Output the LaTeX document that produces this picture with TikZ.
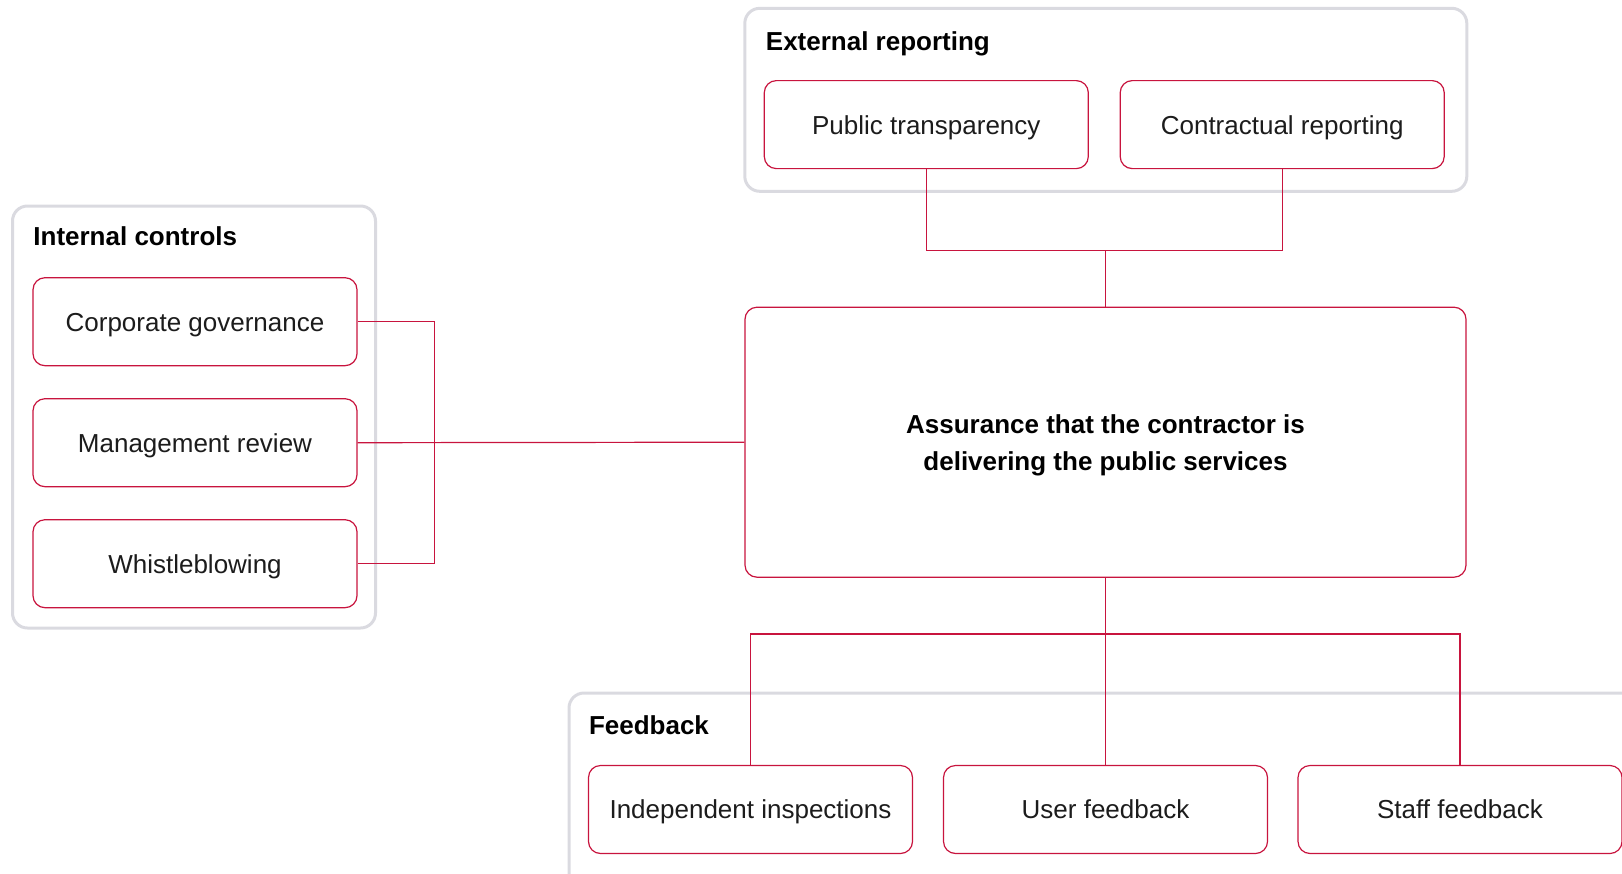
\documentclass[tikz,border=0pt]{standalone}
\usepackage{fontspec}
\setmainfont{Liberation Sans}
\definecolor{brand}{RGB}{200,20,62}
\definecolor{framegrey}{RGB}{218,218,224}
\definecolor{ink}{RGB}{28,28,28}

\begin{document}
\begin{tikzpicture}[x=0.5pt,y=-0.5pt,
  groupframe/.style={draw=framegrey, line width=1.5pt, rounded corners=7.5pt, inner sep=0pt},
  boxbase/.style={draw=brand, line width=0.6pt, fill=white, rounded corners=6pt, inner sep=0pt},
  itembox/.style={boxbase, minimum width=162pt, minimum height=44pt,
    text height=9.4pt, text depth=0pt, text=ink,
    font=\fontsize{13}{16}\selectfont},
  corebox/.style={boxbase, minimum width=360.5pt, minimum height=135pt, align=center,
    text=black, font=\fontsize{13}{18.5}\selectfont\bfseries},
  grouptitle/.style={anchor=base west, inner sep=0pt, text=black,
    font=\fontsize{13}{16}\selectfont\bfseries},
  link/.style={draw=brand, line width=0.6pt},
]
\clip (0,0) rectangle (1622,873);

% group frames
\node[groupframe, minimum width=181.5pt, minimum height=211pt] (internal) at (194,417) {};
\node[groupframe, minimum width=361pt, minimum height=91.5pt] (external) at (1105.8,99.8) {};
\node[groupframe, minimum width=570pt, minimum height=140pt] (feedback) at (1139,833) {};

\node[grouptitle] (internalT) at (33,245) {Internal controls};
\node[grouptitle] (externalT) at (765.5,50) {External reporting};
\node[grouptitle] (feedbackT) at (588.6,734) {Feedback};

% connector points
\coordinate (topjoin) at (1105.5,250.3);
\coordinate (botjoin) at (1105.5,634);

% items
\node[itembox] (cg) at (195,321.7) {Corporate governance};
\node[itembox] (mr) at (195,442.7) {Management review};
\node[itembox] (wb) at (195,563.7) {Whistleblowing};

\node[itembox] (pt) at (926.3,124.6) {Public transparency};
\node[itembox] (cr) at (1282.2,124.6) {Contractual reporting};

\node[corebox] (core) at (1105.5,442.2)
  {\rule{0pt}{12.2pt}Assurance that the contractor is\\delivering the public services};

\node[itembox] (ii) at (750.5,809.5) {Independent inspections};
\node[itembox] (uf) at (1105.5,809.5) {User feedback};
\node[itembox] (sf) at (1460,809.5) {Staff feedback};

% connectors
\draw[link] (cg.east) -- ++(76.5,0) |- (wb.east);
\draw[link] (mr.east) -- (core.west);
\draw[link] (pt.south) |- (topjoin) -| (cr.south);
\draw[link] (topjoin) -- (core.north);
\draw[link] (core.south) -- (uf.north);
\draw[link] (ii.north) |- (botjoin) -| (sf.north);
\end{tikzpicture}
\end{document}
